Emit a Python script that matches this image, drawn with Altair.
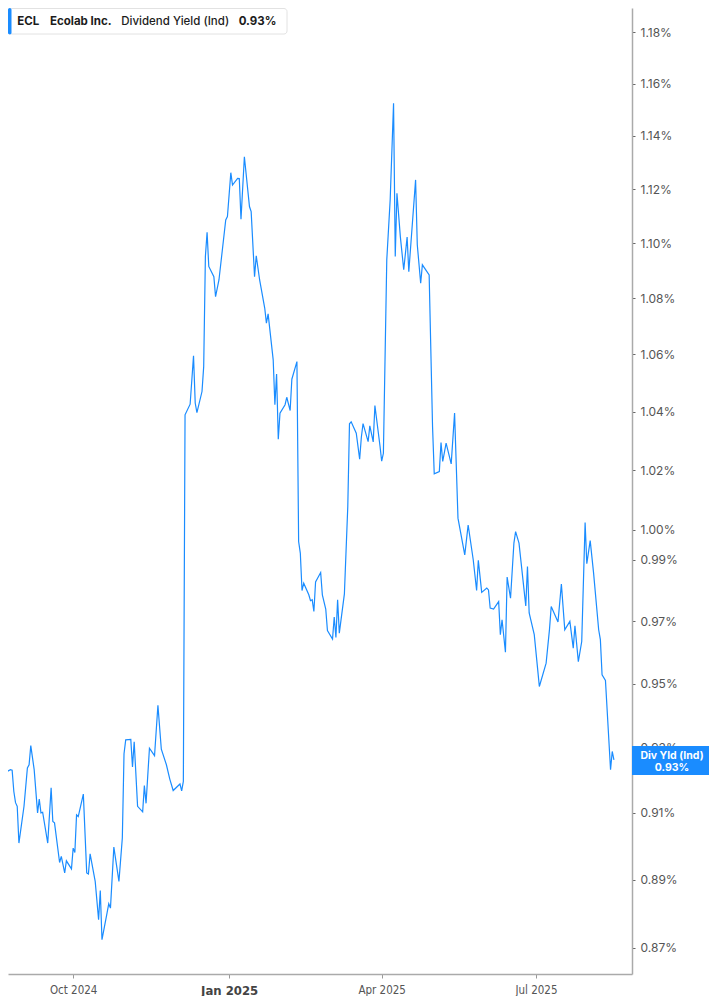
import altair as alt
import pandas as pd

# ---- data (dividend yield, in %) ----
month_days = [
    ("2024-08", [19, 20, 21, 22, 23, 25, 26, 27, 28, 29, 30]),
    ("2024-09", [2, 4, 5, 6, 8, 10, 11, 12, 13, 16, 18, 19, 20, 23, 24, 26, 27, 30]),
    ("2024-10", [1, 2, 3, 4, 7, 9, 10, 11, 14, 16, 17, 18, 21, 22, 23, 25, 28, 30, 31]),
    ("2024-11", [1, 4, 5, 6, 8, 11, 12, 13, 15, 18, 20, 22, 25, 27, 29]),
    ("2024-12", [3, 4, 5, 6, 9, 11, 12, 13, 16, 17, 18, 19, 20, 23, 24, 26, 28, 30, 31]),
    ("2025-01", [2, 3, 6, 7, 8, 10, 13, 14, 16, 17, 19, 22, 23, 24, 27, 28, 29, 30, 31]),
    ("2025-02", [3, 4, 6, 7, 10, 11, 12, 13, 14, 17, 18, 19, 20, 21, 24, 25, 27, 28]),
    ("2025-03", [3, 4, 5, 6, 7, 10, 12, 13, 14, 17, 19, 20, 21, 24, 25, 27, 28, 31]),
    ("2025-04", [1, 2, 4, 6, 8, 9, 10, 12, 14, 16, 17, 21, 22, 24, 25, 29]),
    ("2025-05", [1, 2, 5, 6, 7, 9, 12, 14, 16, 20, 22, 25, 27, 28, 30]),
    ("2025-06", [2, 3, 4, 6, 9, 10, 11, 13, 14, 16, 18, 19, 21, 25, 26, 27, 30]),
    ("2025-07", [2, 3, 7, 9, 10, 14, 16, 18, 21, 23, 24, 26, 28, 30, 31]),
    ("2025-08", [2, 4, 7, 8, 9, 11, 14, 15, 16]),
]

yield_pct = [
    0.9412, 0.9408, 0.9254, 0.9260, 0.9226, 0.9232, 0.9230, 0.9165, 0.9131, 0.9120,
    0.9009, 0.9120, 0.9237, 0.9247, 0.9306, 0.9232, 0.9100, 0.9142, 0.9100, 0.9102,
    0.9009, 0.9176, 0.9074, 0.9070, 0.8951, 0.8969, 0.8920, 0.8956, 0.8932, 0.8994,
    0.8981, 0.9094, 0.9089, 0.9157, 0.8920, 0.8917, 0.8977, 0.8895, 0.8782, 0.8868,
    0.8724, 0.8802, 0.8829, 0.8816, 0.8997, 0.8895, 0.9024, 0.9281, 0.9324, 0.9325,
    0.9240, 0.9318, 0.9120, 0.9103, 0.9183, 0.9129, 0.9298, 0.9275, 0.9432, 0.9295,
    0.9247, 0.9203, 0.9168, 0.9188, 0.9167, 0.9196, 1.0389, 1.0426, 1.0595, 1.0430,
    1.0397, 1.0470, 1.0557, 1.0951, 1.1040, 1.0915, 1.0878, 1.0806, 1.0866, 1.0975,
    1.1085, 1.1098, 1.1261, 1.1215, 1.1240, 1.1239, 1.1088, 1.1321, 1.1135, 1.1116,
    1.0878, 1.0954, 1.0866, 1.0765, 1.0711, 1.0744, 1.0581, 1.0424, 1.0531, 1.0305,
    1.0395, 1.0424, 1.0450, 1.0404, 1.0513, 1.0575, 0.9960, 0.9922, 0.9799, 0.9823,
    0.9785, 0.9766, 0.9769, 0.9731, 0.9827, 0.9858, 0.9785, 0.9739, 0.9669, 0.9642,
    0.9713, 0.9647, 0.9769, 0.9661, 0.9788, 1.0077, 1.0358, 1.0365, 1.0326, 1.0237,
    1.0312, 1.0359, 1.0297, 1.0351, 1.0296, 1.0421, 1.0282, 1.0230, 1.0257, 1.0939,
    1.1159, 1.1524, 1.0951, 1.1184, 1.1024, 1.0903, 1.1022, 1.0896, 1.1234, 1.0994,
    1.0854, 1.0921, 1.0884, 1.0349, 1.0187, 1.0195, 1.0294, 1.0229, 1.0292, 1.0221,
    1.0395, 1.0038, 0.9916, 1.0015, 0.9900, 0.9799, 0.9898, 0.9793, 0.9807, 0.9801,
    0.9742, 0.9739, 0.9763, 0.9656, 0.9704, 0.9600, 0.9843, 0.9774, 0.9955, 0.9993,
    0.9955, 0.9749, 0.9878, 0.9726, 0.9656, 0.9546, 0.9491, 0.9565, 0.9674, 0.9747,
    0.9697, 0.9820, 0.9672, 0.9699, 0.9613, 0.9685, 0.9570, 0.9634, 1.0023, 0.9887,
    0.9963, 0.9856, 0.9672, 0.9640, 0.9528, 0.9510, 0.9232, 0.9288, 0.9262,
]

y_ticks = [0.87, 0.89, 0.91, 0.93, 0.95, 0.97, 0.99, 1.00, 1.02, 1.04, 1.06,
           1.08, 1.10, 1.12, 1.14, 1.16, 1.18]
x_tick_months = [(2024, 10), (2025, 1), (2025, 4), (2025, 7)]

title_parts = ["ECL", "Ecolab Inc.", "Dividend Yield (Ind)", "0.93%"]
badge_lines = ["Div Yld (Ind)", "0.93%"]

dates = [f"{ym}-{d:02d}" for ym, days in month_days for d in days]
df = pd.DataFrame({"date": dates, "yld": yield_pct})
one = pd.DataFrame({"k": [0]})

BLUE = "#1a8cff"
W, H = 624, 966

x_domain = [
    alt.DateTime(year=2024, month=8, date=23, hours=13, minutes=26, utc=True),
    alt.DateTime(year=2025, month=8, date=26, hours=15, minutes=50, utc=True),
]
x_values = [alt.DateTime(year=y, month=m, date=1, utc=True) for y, m in x_tick_months]
is_jan = "utcmonth(datum.value) == 0"

line = alt.Chart(df).mark_line(color=BLUE, strokeWidth=1.2, clip=True).encode(
    x=alt.X(
        "date:T",
        scale=alt.Scale(type="utc", domain=x_domain, nice=False),
        axis=alt.Axis(
            title=None, grid=False, values=x_values, format="%b %Y",
            labelFont="'Liberation Sans Narrow', 'DejaVu Sans Condensed', Roboto",
            labelFontSize={"condition": {"test": is_jan, "value": 13}, "value": 11.5},
            labelFontWeight={"condition": {"test": is_jan, "value": "bold"}, "value": "normal"},
            labelColor={"condition": {"test": is_jan, "value": "#444"}, "value": "#555"},
            labelPadding=6, tickSize=4, tickColor="#999", tickWidth=1,
            domainColor="#aaaaaa", domainWidth=1.5, labelFlush=False,
        ),
    ),
    y=alt.Y(
        "yld:Q",
        scale=alt.Scale(type="log", domain=[0.86249, 1.18955], nice=False, zero=False),
        axis=alt.Axis(
            orient="right", title=None, grid=False, values=y_ticks,
            labelExpr="format(datum.value, '.2f') + '%'",
            labelFont="Inter", labelFontSize=12, labelColor="#555",
            labelPadding=5, tickSize=3, tickColor="#666", tickWidth=1,
            domainColor="#aaaaaa", domainWidth=1.5, labelFlush=False,
        ),
    ),
)

# right-hand value badge
badge = alt.Chart(one).mark_rect(color=BLUE).encode(
    x=alt.value(624), x2=alt.value(701), y=alt.value(738), y2=alt.value(767)
)
badge_t1 = alt.Chart(one).mark_text(
    color="white", font="Inter", fontSize=10.5, fontWeight="bold", align="center", baseline="alphabetic"
).encode(x=alt.value(664), y=alt.value(751), text=alt.value(badge_lines[0]))
badge_t2 = alt.Chart(one).mark_text(
    color="white", font="Inter", fontSize=10.5, fontWeight="bold", align="center", baseline="alphabetic"
).encode(x=alt.value(664), y=alt.value(762.5), text=alt.value(badge_lines[1]))

# title box at top-left
tbox = alt.Chart(one).mark_rect(fill="white", stroke="#e2e2e2", strokeWidth=1, cornerRadius=3).encode(
    x=alt.value(0.5), x2=alt.value(279), y=alt.value(0.5), y2=alt.value(26)
)
tbar = alt.Chart(one).mark_rect(color=BLUE, cornerRadius=2).encode(
    x=alt.value(0), x2=alt.value(3.5), y=alt.value(0), y2=alt.value(26.5)
)
title_x = [9.3, 42, 113.3, 230.7]
title_w = ["bold", "bold", 500, "bold"]
tlayers = []
for txt, xx, wt in zip(title_parts, title_x, title_w):
    tlayers.append(
        alt.Chart(one).mark_text(
            color="#1c1c1c", font="Inter", fontSize=11.5, fontWeight=wt, align="left", baseline="alphabetic"
        ).encode(x=alt.value(xx), y=alt.value(16.8), text=alt.value(txt))
    )

chart = alt.layer(line, badge, badge_t1, badge_t2, tbox, tbar, *tlayers).properties(
    width=W, height=H,
    autosize=alt.AutoSizeParams(type="none"),
    padding={"left": 0, "top": 0, "right": 77, "bottom": 22},
    background="white",
).configure_view(stroke=None)

chart.save("out.html", embed_options={"renderer": "svg", "actions": False})
